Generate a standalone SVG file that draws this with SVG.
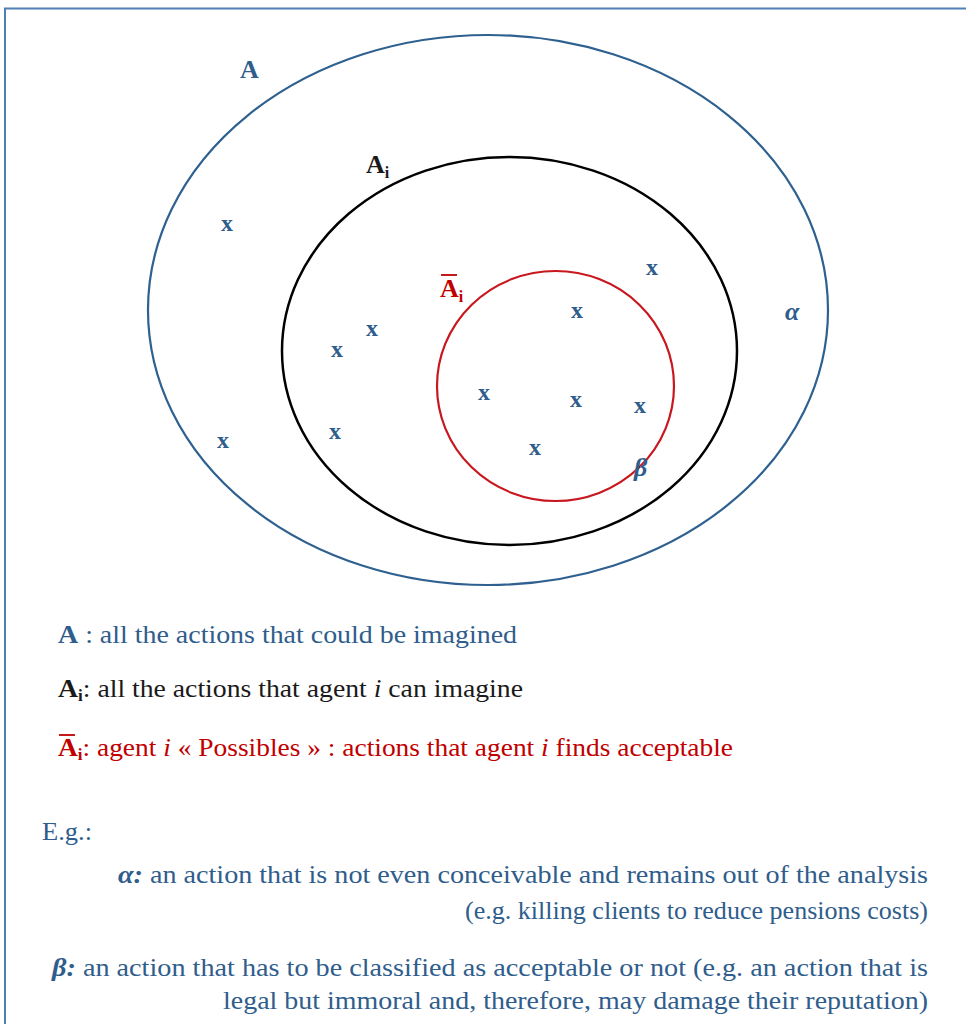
<svg xmlns="http://www.w3.org/2000/svg" width="966" height="1024" viewBox="0 0 966 1024">
<style>
.t{font-family:"Liberation Serif","Times New Roman",serif;font-size:26px}
.b{fill:#2f5d8c}
.r{fill:#c00000}
.k{fill:#1a1a1a}
.x{font-family:"Liberation Serif","Times New Roman",serif;font-size:24px;font-weight:bold;fill:#2f5d8c;text-anchor:middle}
.bold{font-weight:bold}
.it{font-style:italic}
.sub{font-size:16px}
</style>
<rect x="5" y="8.5" width="1000" height="1100" fill="#ffffff" stroke="#4f7fb5" stroke-width="2"/>
<g id="setA">
<ellipse cx="488" cy="310" rx="340" ry="275" fill="none" stroke="#2f6190" stroke-width="2.2"/>
<text class="t bold b" x="240" y="78" font-size="25">A</text>
</g>
<g id="setAi">
<ellipse cx="509.5" cy="351" rx="227.5" ry="194" fill="none" stroke="#000" stroke-width="2.5"/>
<text class="t bold k" x="366" y="173" font-size="22">A<tspan class="sub" dy="5">i</tspan></text>
</g>
<g id="setAbar">
<ellipse cx="555.5" cy="386" rx="118.5" ry="115" fill="none" stroke="#c8171e" stroke-width="2.2"/>
<line x1="441" y1="275" x2="457" y2="275" stroke="#c00000" stroke-width="1.8"/>
<text class="t bold r" x="440" y="297" font-size="22">A<tspan class="sub" dy="5">i</tspan></text>
</g>
<g id="alpha">
<text class="t bold it b" x="785" y="320" font-size="22">α</text>
</g>
<g id="beta">
<text class="t bold it b" x="634" y="476" font-size="26">β</text>
</g>
<g id="points">
<text class="x" x="227" y="231">x</text>
<text class="x" x="223" y="448">x</text>
<text class="x" x="337" y="357">x</text>
<text class="x" x="372" y="336">x</text>
<text class="x" x="335" y="439">x</text>
<text class="x" x="652" y="275">x</text>
<text class="x" x="577" y="318">x</text>
<text class="x" x="484" y="400">x</text>
<text class="x" x="576" y="407">x</text>
<text class="x" x="640" y="413">x</text>
<text class="x" x="535" y="455">x</text>
</g>
<g id="connectors"></g>
<g id="legend">
<text class="t b" x="58" y="643" textLength="459" lengthAdjust="spacingAndGlyphs"><tspan class="bold">A</tspan> : all the actions that could be imagined</text>
<text class="t k" x="58" y="697" textLength="465" lengthAdjust="spacingAndGlyphs"><tspan class="bold">A</tspan><tspan class="bold sub" dy="4">i</tspan><tspan dy="-4">: all the actions that agent </tspan><tspan class="it">i</tspan> can imagine</text>
<line x1="59" y1="735" x2="75" y2="735" stroke="#c00000" stroke-width="1.8"/>
<text class="t r" x="58" y="756" textLength="675" lengthAdjust="spacingAndGlyphs"><tspan class="bold">A</tspan><tspan class="bold sub" dy="4">i</tspan><tspan dy="-4">: agent </tspan><tspan class="it">i</tspan> « Possibles » : actions that agent <tspan class="it">i</tspan> finds acceptable</text>
<text class="t b" x="42" y="840" textLength="50" lengthAdjust="spacingAndGlyphs">E.g.:</text>
<text class="t b" x="118" y="883" textLength="810" lengthAdjust="spacingAndGlyphs"><tspan class="bold it">α:</tspan> an action that is not even conceivable and remains out of the analysis</text>
<text class="t b" x="465" y="919" textLength="463" lengthAdjust="spacingAndGlyphs">(e.g. killing clients to reduce pensions costs)</text>
<text class="t b" x="52" y="976" textLength="876" lengthAdjust="spacingAndGlyphs"><tspan class="bold it">β:</tspan> an action that has to be classified as acceptable or not (e.g. an action that is</text>
<text class="t b" x="223" y="1009" textLength="705" lengthAdjust="spacingAndGlyphs">legal but immoral and, therefore, may damage their reputation)</text>
</g>
</svg>
